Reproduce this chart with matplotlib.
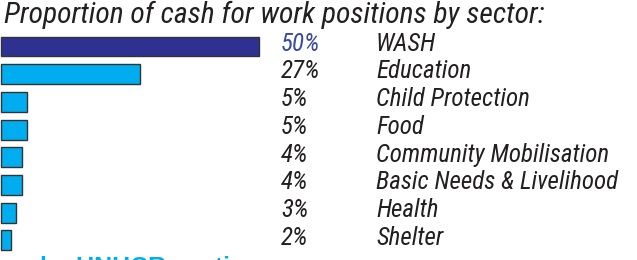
import matplotlib
matplotlib.use("Agg")
import matplotlib.pyplot as plt
from matplotlib.transforms import blended_transform_factory

title = "Proportion of cash for work positions by sector:"
sectors = ["WASH", "Education", "Child Protection", "Food",
           "Community Mobilisation", "Basic Needs & Livelihood", "Health", "Shelter"]
values = [50, 27, 5, 5, 4, 4, 3, 2]
pct_labels = ["50%", "27%", "5%", "5%", "4%", "4%", "3%", "2%"]
footer = "by UNHCR sections"

FONT = ["Roboto Condensed", "Liberation Sans", "DejaVu Sans"]
WIDE = ["Liberation Sans", "DejaVu Sans"]
DARK = "#2E3192"
CYAN = "#00AEEF"
TXT = "#231F20"

W, H = 637, 260
fig = plt.figure(figsize=(W / 100, H / 100), dpi=100)

# axes: x 0..50 -> px 1..259 ; rows centered from 46.5 with pitch 27.7
top_px, bot_px = 32.65, 254.25
ax = fig.add_axes([1 / W, (H - bot_px) / H, 258 / W, (bot_px - top_px) / H])
ax.set_xlim(0, 50)
ax.set_ylim(len(sectors) - 0.5, -0.5)
ax.axis("off")

ys = list(range(len(sectors)))
colors = [DARK] + [CYAN] * (len(sectors) - 1)
ax.barh(ys, values, height=0.72, color=colors, edgecolor="#333333", linewidth=1.0, clip_on=False)

tr = blended_transform_factory(fig.transFigure, ax.transData)
for i, (p, s) in enumerate(zip(pct_labels, sectors)):
    c = "#3A4AA0" if i == 0 else TXT
    ax.text(281 / W, i - 0.1, p, transform=tr, fontsize=18, style="italic",
            family=FONT, color=c, va="center", ha="left")
    ax.text(376 / W, i - 0.1, s, transform=tr, fontsize=18, style="italic",
            family=FONT, color=TXT, va="center", ha="left")

fig.text(4 / W, (H - 22.7) / H, title, fontsize=21.3, style="italic", family=FONT,
         color=TXT, va="baseline", ha="left")
fig.text(40 / W, (H - 256) / H, footer, fontsize=18, weight="bold", family=WIDE,
         color=CYAN, va="top", ha="left")

fig.savefig("out.png", dpi=100)
